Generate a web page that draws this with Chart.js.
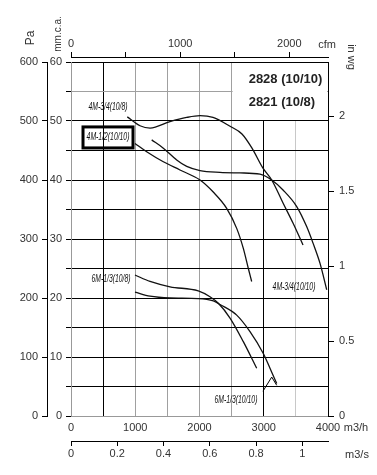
<!DOCTYPE html>
<html lang="en">
<head>
    <meta charset="UTF-8" />
    <title>2828 (10/10) / 2821 (10/8)</title>
    <script src="https://cdn.jsdelivr.net/npm/chart.js"></script>
    <style>
        body { margin: 0; padding: 0; background: #fff; }
        .chart-container { width: 377px; height: 475px; position: relative; }
    </style>
</head>
<body>
    <div class="chart-container">
        <canvas id="fanChart"></canvas>
    </div>

    <script>
        // airflow in m3/h, static pressure in Pa
        const flow_34_108 = [876, 1074, 1230, 1541, 1801, 2008, 2210, 2475, 2661, 2817, 2988, 3124, 3300, 3455, 3611];
        const pres_34_108 = [507, 492, 488, 499, 506, 509, 506, 491, 478, 454, 420, 400, 361, 327, 290];

        const flow_34_1010 = [1256, 1437, 1645, 1801, 2008, 2319, 2630, 2942, 3124, 3300, 3513, 3668, 3767, 3875, 3980];
        const pres_34_1010 = [468, 454, 434, 423, 416, 413, 412, 410, 400, 383, 355, 321, 293, 259, 214];

        const flow_12_1010 = [996, 1178, 1437, 1696, 2008, 2210, 2423, 2579, 2682, 2760, 2812];
        const pres_12_1010 = [462, 448, 431, 417, 400, 380, 352, 318, 284, 250, 228];

        const flow_13_108 = [996, 1230, 1541, 1981, 2163, 2293, 2475, 2682, 2890];
        const pres_13_108 = [239, 228, 219, 212, 202, 191, 166, 126, 81];

        const flow_13_1010 = [996, 1230, 1541, 1981, 2215, 2319, 2579, 2786, 2993, 3097, 3202];
        const pres_13_1010 = [210, 203, 200, 199, 195, 189, 171, 143, 106, 81, 55];

        const models = ['2828 (10/10)', '2821 (10/8)'];

        // tick positions of the six axes
        const ticksM3h = [0, 500, 1000, 1500, 2000, 2500, 3000, 3500, 4000];
        const ticksM3s = [0, 0.2, 0.4, 0.6, 0.8, 1];
        const ticksCfm = [0, 500, 1000, 1500, 2000];
        const ticksPa = [0, 50, 100, 150, 200, 250, 300, 350, 400, 450, 500, 550, 600];
        const ticksMm = [0, 5, 10, 15, 20, 25, 30, 35, 40, 45, 50, 55, 60];
        const ticksInWg = [0, 0.5, 1, 1.5, 2];

        const font = { family: '"Liberation Sans", Arial, sans-serif', size: 11 };
        const tickColor = '#333';

        const toPoints = (xs, ys) => xs.map((v, i) => ({ x: v, y: ys[i] }));
        const setTicks = list => s => { s.ticks = list.map(v => ({ value: v })); };

        const curve = (label, xs, ys) => ({
            label: label,
            data: toPoints(xs, ys),
            showLine: true,
            borderColor: '#111',
            borderWidth: 1.3,
            pointRadius: 0,
            cubicInterpolationMode: 'monotone',
            xAxisID: 'x',
            yAxisID: 'y'
        });

        // curve names sit next to the curves, given in m3/h and Pa
        function curveLabel(ctx, x, y, text, qx, py) {
            ctx.save();
            ctx.translate(x.getPixelForValue(qx), y.getPixelForValue(py));
            ctx.scale(0.62, 1);
            ctx.font = 'italic 11px "Liberation Sans", Arial, sans-serif';
            ctx.fillStyle = '#111';
            ctx.textAlign = 'center';
            ctx.textBaseline = 'middle';
            ctx.fillText(text, 0, 0);
            ctx.restore();
        }

        function rotated(ctx, text, px, py, angle, size) {
            ctx.save();
            ctx.translate(px, py);
            ctx.rotate(angle);
            ctx.font = size + 'px "Liberation Sans", Arial, sans-serif';
            ctx.fillStyle = tickColor;
            ctx.textAlign = 'center';
            ctx.textBaseline = 'middle';
            ctx.fillText(text, 0, 0);
            ctx.restore();
        }

        const annotations = {
            id: 'annotations',
            beforeDatasetsDraw(chart) {
                const { ctx, scales: { x, y } } = chart;
                // upper right cell is kept blank for the model names
                const l = x.getPixelForValue(2500) + 1, r = x.getPixelForValue(4000) - 1;
                const t = y.getPixelForValue(600) + 1, b = y.getPixelForValue(500) - 1;
                ctx.save();
                ctx.fillStyle = '#fff';
                ctx.fillRect(l, t, r - l, b - t);
                ctx.restore();
            },
            afterDatasetsDraw(chart) {
                const { ctx, chartArea, scales: { x, y } } = chart;
                ctx.save();
                ctx.font = 'bold 13px "Liberation Sans", Arial, sans-serif';
                ctx.fillStyle = '#222';
                ctx.textBaseline = 'middle';
                ctx.fillText(models[0], x.getPixelForValue(2765), y.getPixelForValue(570));
                ctx.fillText(models[1], x.getPixelForValue(2765), y.getPixelForValue(531));
                ctx.restore();

                curveLabel(ctx, x, y, '4M-3/4(10/8)', 576, 524);
                curveLabel(ctx, x, y, '4M-1/2(10/10)', 576, 473);
                curveLabel(ctx, x, y, '6M-1/3(10/8)', 623, 232);
                curveLabel(ctx, x, y, '6M-1/3(10/10)', 2568, 27);
                curveLabel(ctx, x, y, '4M-3/4(10/10)', 3471, 219);

                // framed label
                ctx.save();
                ctx.strokeStyle = '#000';
                ctx.lineWidth = 3;
                const bx = x.getPixelForValue(576), by = y.getPixelForValue(473);
                ctx.strokeRect(bx - 25, by - 10, 50, 21);
                // leader from the 6M-1/3(10/10) label
                ctx.lineWidth = 1;
                ctx.beginPath();
                ctx.moveTo(x.getPixelForValue(2988), y.getPixelForValue(42));
                ctx.lineTo(x.getPixelForValue(3124), y.getPixelForValue(66));
                ctx.lineTo(x.getPixelForValue(3202), y.getPixelForValue(52));
                ctx.stroke();
                ctx.restore();

                // axis names
                rotated(ctx, 'Pa', 31, 38, -Math.PI / 2, 12);
                rotated(ctx, 'mm.c.a.', 58, 34, -Math.PI / 2, 10);
                rotated(ctx, 'in wg', 351, 57, Math.PI / 2, 11);
                ctx.save();
                ctx.font = '11px "Liberation Sans", Arial, sans-serif';
                ctx.fillStyle = tickColor;
                ctx.textAlign = 'center';
                ctx.textBaseline = 'middle';
                ctx.fillText('cfm', chartArea.right - 1, 45);
                ctx.fillText('m3/h', 356, 428);
                ctx.fillText('m3/s', 357, 455);
                ctx.restore();
            }
        };

        const xGrid = v => {
            if (v === 500 || v === 3000 || v === 4000) return '#000';
            if (v === 3500) return '#c8c8c8';
            return '#a0a0a0';
        };

        const fanChart = new Chart(document.getElementById('fanChart'), {
            type: 'scatter',
            data: {
                datasets: [
                    curve('4M-3/4(10/8)', flow_34_108, pres_34_108),
                    curve('4M-3/4(10/10)', flow_34_1010, pres_34_1010),
                    curve('4M-1/2(10/10)', flow_12_1010, pres_12_1010),
                    curve('6M-1/3(10/8)', flow_13_108, pres_13_108),
                    curve('6M-1/3(10/10)', flow_13_1010, pres_13_1010)
                ]
            },
            options: {
                responsive: true,
                maintainAspectRatio: false,
                animation: false,
                layout: { padding: 0 },
                plugins: { legend: { display: false }, tooltip: { enabled: false } },
                scales: {
                    x: {
                        type: 'linear', position: 'bottom', weight: 0,
                        min: 0, max: 4000,
                        afterBuildTicks: setTicks(ticksM3h),
                        ticks: { autoSkip: false, maxRotation: 0, padding: 5, color: tickColor, font: font,
                                 callback: v => v % 1000 === 0 ? v : '' },
                        grid: { drawTicks: false, color: c => xGrid(c.tick.value) },
                        border: { color: '#999' },
                        afterFit: s => { s.height = 25; }
                    },
                    xs: {
                        type: 'linear', position: 'bottom', weight: 1,
                        min: 0, max: 4000 / 3600,
                        afterBuildTicks: setTicks(ticksM3s),
                        ticks: { autoSkip: false, maxRotation: 0, padding: 1, color: tickColor, font: font,
                                 callback: v => String(v) },
                        grid: { drawOnChartArea: false, tickLength: 5, color: '#000' },
                        border: { color: '#000' },
                        afterFit: s => { s.height = 34; }
                    },
                    gap: {
                        type: 'linear', position: 'top', weight: 0,
                        ticks: { display: false },
                        grid: { display: false },
                        border: { display: false },
                        afterFit: s => { s.height = 5; }
                    },
                    xc: {
                        type: 'linear', position: 'top', weight: 1,
                        min: 0, max: 4000 / 1.699,
                        afterBuildTicks: setTicks(ticksCfm),
                        ticks: { autoSkip: false, maxRotation: 0, padding: 1, color: tickColor, font: font,
                                 callback: v => v % 1000 === 0 ? v : '' },
                        grid: { drawOnChartArea: false, tickLength: 5, color: '#000' },
                        border: { color: '#000' },
                        afterFit: s => { s.height = 57; }
                    },
                    y: {
                        type: 'linear', position: 'left', weight: 1,
                        min: 0, max: 600,
                        afterBuildTicks: setTicks(ticksPa),
                        ticks: { autoSkip: false, padding: 4, color: tickColor, font: font,
                                 callback: v => v % 100 === 0 ? v : '' },
                        grid: {
                            tickLength: 5,
                            color: c => c.tick.value === 0 ? '#999' : (c.tick.value === 550 ? '#a0a0a0' : '#000'),
                            tickColor: c => c.tick.value % 100 === 0 ? '#000' : 'rgba(0,0,0,0)'
                        },
                        border: { color: '#000' },
                        afterFit: s => { s.width = 47; }
                    },
                    ym: {
                        type: 'linear', position: 'left', weight: 0,
                        min: 0, max: 60,
                        afterBuildTicks: setTicks(ticksMm),
                        ticks: { autoSkip: false, padding: 4, color: tickColor, font: font,
                                 callback: v => v % 10 === 0 ? v : '' },
                        grid: { drawOnChartArea: false, tickLength: 5, color: '#000' },
                        border: { color: '#999' },
                        afterFit: s => { s.width = 24; }
                    },
                    yw: {
                        type: 'linear', position: 'right', weight: 0,
                        min: 0, max: 600 / 254,
                        afterBuildTicks: setTicks(ticksInWg),
                        ticks: { autoSkip: false, padding: 5, color: tickColor, font: font,
                                 callback: v => String(v) },
                        grid: { drawOnChartArea: false, tickLength: 6, color: '#000' },
                        border: { color: '#000' },
                        afterFit: s => { s.width = 49; }
                    }
                }
            },
            plugins: [annotations]
        });
    </script>
</body>
</html>
